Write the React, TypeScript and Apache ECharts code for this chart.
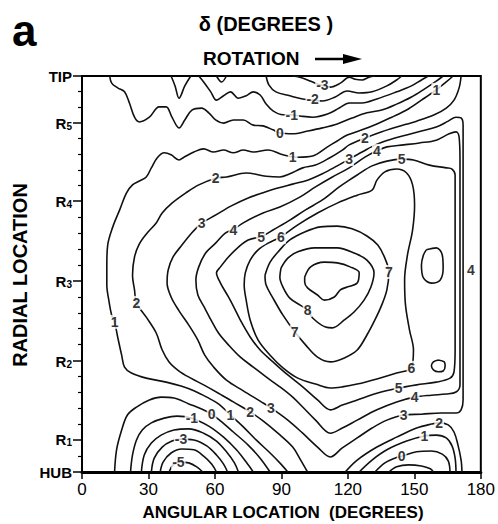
import React, { useEffect, useRef } from 'react';
import * as echarts from 'echarts';

const FONT = '"Liberation Sans", Arial, Helvetica, sans-serif';

// Axes
const xTicks = [0, 30, 60, 90, 120, 150, 180];
const radialNames = ['HUB', 'R1', 'R2', 'R3', 'R4', 'R5', 'TIP'];
const radialValues = [0, 8.1, 28.0, 48.2, 68.4, 88.1, 100];
const radialMinor = [4.0, 12.1, 16.1, 20.1, 24.1, 32.2, 36.2, 40.2, 44.2, 52.2, 56.2, 60.3, 64.3, 72.3, 76.3, 80.2, 84.2, 92.1, 96.1];

// Contours: [angular location (deg), radial location (% span hub->tip)]
const c9 = [[100.5,49.2],[103.2,51.8],[109.4,53.0],[115.2,52.8],[121.0,51.8],[125.1,50.3],[124.2,47.7],[119.7,46.7],[116.6,46.0],[113.9,44.2],[109.4,43.4],[106.3,44.7],[101.8,46.5],[100.5,48.0],[100.5,49.2]];
const c8 = [[89.8,51.5],[92.9,54.0],[97.4,55.6],[105.0,56.6],[115.2,56.6],[122.8,55.3],[128.6,53.5],[131.8,50.3],[130.4,46.7],[127.3,43.4],[122.8,40.4],[118.4,38.4],[113.0,36.4],[109.9,36.6],[104.1,38.9],[101.8,40.9],[98.3,42.2],[93.8,43.9],[90.7,46.7],[89.3,49.2],[89.8,51.5]];
const c7 = [[82.6,49.7],[84.9,53.0],[89.3,56.1],[93.8,58.6],[100.5,60.6],[107.6,61.9],[115.2,62.1],[121.9,61.4],[128.6,59.6],[133.5,57.3],[136.7,54.0],[138.5,50.5],[137.6,46.0],[135.3,42.2],[132.2,38.4],[128.6,34.6],[124.2,30.8],[118.4,28.8],[112.1,27.8],[106.3,29.0],[100.9,32.1],[96.0,35.4],[90.7,39.6],[86.2,43.9],[83.1,47.2],[82.6,49.7]];
const c6 = [[89.8,59.3],[97.4,62.4],[106.3,65.4],[115.2,67.9],[124.2,69.9],[130.9,71.2],[133.1,73.7],[136.7,75.8],[142.0,76.5],[146.5,75.5],[149.2,72.5],[150.1,67.4],[149.2,61.1],[146.9,54.8],[145.6,48.5],[146.0,42.2],[147.8,35.9],[149.6,30.8],[148.7,26.3],[142.0,25.0],[133.1,23.5],[124.2,22.2],[117.5,21.5],[112.1,21.2],[105.4,22.2],[97.4,23.7],[90.7,26.3],[84.9,29.5],[79.5,33.3],[75.9,38.4],[74.1,43.4],[73.2,47.2],[73.7,50.3],[75.9,53.5],[79.5,56.1],[84.0,57.8],[89.8,59.3]];
const c6Oval = [[155.4,56.1],[159.9,56.6],[162.6,54.8],[163.0,51.5],[161.7,48.5],[157.7,47.7],[154.1,49.0],[153.2,52.3],[154.1,54.8],[155.4,56.1]];
const c6Dot = [[160.8,28.3],[163.5,27.8],[163.9,26.8],[163.0,25.5],[160.8,25.3],[158.6,25.8],[157.7,26.8],[158.6,27.8],[160.8,28.3]];
const c5 = [[80.8,59.3],[86.2,61.1],[93.8,63.6],[100.9,66.2],[108.5,68.7],[116.1,72.0],[120.6,73.7],[124.2,75.0],[130.9,77.3],[137.6,78.5],[144.3,79.0],[149.6,78.8],[156.8,77.5],[164.4,76.8],[167.0,76.5],[168.4,75.0],[168.4,68.7],[168.4,56.1],[168.4,43.4],[168.4,30.8],[167.9,25.3],[166.1,23.7],[159.9,22.7],[151.0,22.0],[142.9,21.2],[133.1,19.9],[124.2,18.2],[117.5,16.9],[112.1,15.7],[106.3,18.2],[99.6,21.5],[92.9,24.5],[86.2,27.8],[80.4,30.8],[75.9,34.1],[71.9,37.9],[69.2,40.9],[66.1,44.2],[62.5,47.7],[60.7,50.3],[62.5,51.8],[66.1,54.3],[70.6,56.8],[75.0,58.6],[80.8,59.3]];
const c4 = [[68.3,61.1],[72.8,62.9],[81.7,65.4],[89.3,66.9],[98.3,69.4],[105.4,72.0],[113.0,74.5],[120.6,76.8],[127.7,79.5],[133.1,81.1],[137.6,82.1],[145.2,82.6],[152.3,83.1],[159.9,83.8],[165.7,85.4],[168.8,85.9],[170.2,84.6],[170.6,78.8],[170.6,68.7],[170.6,56.1],[170.6,43.4],[170.6,30.8],[170.6,22.0],[168.8,20.2],[164.4,19.7],[157.7,19.4],[150.1,18.9],[142.0,17.7],[133.1,15.7],[124.2,13.1],[117.5,11.1],[112.1,9.8],[105.4,13.1],[99.6,16.4],[95.1,18.9],[89.3,21.5],[83.1,24.0],[77.3,26.5],[71.5,29.0],[66.1,32.1],[61.6,35.1],[58.5,38.1],[55.4,41.4],[52.3,44.7],[51.4,48.5],[52.7,51.8],[55.8,55.3],[60.3,57.8],[64.8,60.4],[68.3,61.1]];
const c3 = [[54.0,62.9],[60.3,64.9],[67.4,67.2],[75.0,69.2],[81.7,70.5],[88.4,71.7],[95.1,72.7],[101.8,73.7],[108.5,75.3],[115.2,77.3],[120.6,79.0],[126.4,80.8],[133.1,82.8],[139.8,84.1],[146.5,85.1],[153.2,86.1],[159.9,87.1],[165.3,88.6],[168.8,89.6],[171.1,89.4],[172.0,87.6],[172.0,76.3],[172.0,56.1],[172.0,43.4],[172.0,30.8],[172.0,18.2],[171.1,15.7],[168.8,14.9],[162.1,14.9],[153.2,14.6],[145.2,14.4],[137.6,13.1],[130.9,11.1],[124.2,8.6],[117.5,6.1],[112.1,3.8],[106.3,6.3],[99.6,9.8],[92.9,13.1],[85.3,16.2],[80.4,17.9],[72.8,20.5],[65.2,23.2],[59.4,26.5],[55.4,29.5],[52.3,33.3],[48.2,37.1],[43.8,40.7],[40.2,44.2],[38.4,47.7],[38.9,51.0],[41.1,54.3],[45.1,57.3],[49.6,60.4],[54.0,62.9]];
const c2Main = [[171.1,100],[170.2,97.0],[167.9,93.9],[164.4,91.9],[159.0,90.2],[151.0,88.6],[142.0,87.1],[135.3,85.9],[127.7,84.3],[120.6,82.6],[117.5,81.3],[111.7,79.3],[105.4,77.5],[99.6,76.8],[93.8,75.3],[89.3,74.5],[83.1,74.7],[74.1,75.5],[65.2,74.5],[60.3,74.2],[52.7,72.5],[46.9,70.5],[40.6,67.9],[36.2,65.4],[33.5,62.9],[29.5,60.4],[25.9,57.6],[23.7,54.3],[22.8,49.7],[23.7,46.0],[24.6,42.7],[29.0,39.1],[33.5,35.1],[36.2,30.8],[39.3,27.8],[43.8,25.5],[49.1,23.7],[54.9,22.0],[61.6,19.9],[68.3,17.7],[75.9,15.2],[81.7,12.9],[88.4,9.8],[95.1,6.3],[98.7,3.0],[101.8,0]];
const c2Right = [[118.8,0],[124.2,3.0],[133.1,6.3],[142.0,8.8],[151.0,11.1],[157.7,12.1],[161.2,12.4],[165.3,11.9],[167.9,10.1],[169.7,6.8],[171.1,3.0],[171.5,0]];
const c1Main = [[167.5,100],[164.4,98.5],[159.9,96.5],[153.2,93.9],[146.5,91.4],[139.8,89.6],[133.1,87.9],[126.4,86.4],[119.7,85.1],[115.2,83.6],[110.8,82.1],[104.1,79.8],[97.4,79.5],[90.7,80.1],[84.0,81.3],[77.3,80.8],[72.8,81.3],[68.3,80.6],[63.9,81.3],[59.4,80.8],[54.9,81.6],[50.5,80.8],[46.0,79.5],[43.8,78.8],[40.2,80.1],[37.1,80.6],[33.9,79.3],[31.3,76.8],[29.0,74.5],[25.9,73.5],[22.8,72.5],[20.1,70.5],[17.0,66.2],[13.9,61.9],[11.6,57.3],[11.2,52.3],[11.2,47.2],[12.1,43.4],[13.4,39.6],[14.7,37.9],[16.1,34.1],[17.9,29.5],[19.2,26.5],[22.3,25.0],[29.0,23.7],[38.0,22.7],[44.7,21.7],[50.5,20.5],[56.3,18.9],[61.6,17.2],[67.0,14.4],[72.8,11.4],[78.6,8.1],[84.9,4.8],[89.8,2.0],[92.9,0]];
const c1Right = [[125.1,0],[130.9,3.0],[137.6,5.6],[146.5,7.8],[154.5,9.1],[159.9,9.3],[164.4,8.6],[167.0,6.6],[168.4,3.5],[168.8,0]];
const c0Top = [[12.5,100],[13.4,98.2],[16.1,97.0],[19.2,96.0],[21.4,93.2],[23.7,89.6],[25.9,88.4],[30.4,89.6],[34.8,92.2],[38.0,92.2],[40.6,89.6],[43.8,86.9],[46.4,88.9],[49.6,91.4],[54.0,91.9],[57.2,90.7],[60.3,88.9],[63.9,88.1],[68.3,88.9],[72.8,88.9],[77.3,87.6],[81.7,87.4],[86.2,86.4],[89.3,85.6],[95.1,85.4],[101.8,86.1],[108.5,86.9],[115.2,87.9],[121.9,89.4],[128.6,90.7],[135.3,91.4],[142.0,92.9],[148.7,94.7],[154.5,96.7],[159.9,98.7],[163.0,100]];
const c0Hub = [[14.7,0],[15.6,5.6],[17.9,10.6],[20.5,14.4],[24.6,16.4],[30.4,18.2],[35.7,18.9],[41.5,18.7],[48.2,17.2],[54.0,15.9],[58.5,14.6],[62.5,12.9],[68.3,10.1],[75.0,6.8],[80.4,3.5],[84.9,0]];
const c0Right = [[132.2,0],[136.7,2.3],[141.1,3.5],[144.3,4.0],[151.0,5.1],[157.7,5.3],[162.6,4.5],[165.3,2.8],[166.1,0]];
const cM1Top = [[52.7,100],[54.9,98.5],[58.1,96.0],[60.7,93.9],[63.9,95.0],[67.0,96.0],[70.6,94.4],[74.1,95.0],[77.3,96.0],[80.4,95.2],[83.1,92.9],[86.2,91.2],[90.7,90.2],[94.7,90.2],[98.3,89.9],[104.1,89.6],[110.8,90.4],[116.1,91.9],[120.6,93.2],[126.4,93.2],[133.1,94.2],[142.0,96.0],[148.7,97.5],[153.2,99.0],[156.3,100]];
const cM1Tongue = [[40.2,100],[42.0,97.5],[43.8,94.4],[46.4,97.5],[49.1,100]];
const cM1Hub = [[21.9,0],[22.8,4.3],[24.6,8.1],[27.2,10.6],[31.3,12.4],[37.1,13.6],[42.9,14.1],[49.6,13.6],[57.2,11.6],[63.9,8.8],[69.7,5.6],[74.1,2.5],[77.3,0]];
const cM1Right = [[138.5,0],[142.0,1.3],[147.4,1.8],[153.2,1.5],[157.2,0.8],[158.6,0]];
const cM2Top = [[83.1,100],[84.4,97.7],[87.5,96.0],[93.8,95.0],[99.6,94.2],[104.1,93.9],[108.5,93.7],[114.3,94.7],[119.7,96.2],[125.1,95.7],[130.9,96.0],[137.6,97.5],[142.0,99.0],[144.3,100]];
const cM2Tongue = [[60.7,100],[63.0,98.5],[65.2,100]];
const cM2Hub = [[26.8,0],[28.1,4.3],[31.3,7.3],[35.7,9.3],[41.5,10.6],[48.2,10.9],[54.9,9.8],[60.7,7.8],[65.2,5.1],[68.8,2.3],[70.6,0]];
const cM3Top = [[95.1,100],[98.3,99.7],[101.8,99.0],[106.3,98.0],[112.1,97.2],[116.6,98.2],[120.6,99.7],[123.3,99.2],[126.4,99.0],[129.5,99.7],[132.2,100]];
const cM3Hub = [[31.3,0],[32.6,3.5],[36.2,6.3],[40.6,7.8],[44.7,8.3],[50.5,8.1],[56.3,6.6],[60.7,4.3],[63.9,2.0],[65.7,0]];
const cM4Hub = [[35.3,0],[36.6,2.5],[40.2,4.8],[45.1,5.8],[50.5,5.6],[54.9,4.0],[58.5,2.0],[60.7,0]];
const cM5Hub = [[39.3,0],[41.1,1.8],[44.2,2.5],[48.2,2.3],[51.8,1.3],[54.5,0]];

// Contour labels: [deg, radial, text]
const contourLabels = [
  [108.5, 97.7, '-3'], [104.1, 94.2, '-2'], [94.7, 90.2, '-1'], [89.3, 85.6, '0'], [95.1, 79.5, '1'],
  [159.9, 96.5, '1'], [60.3, 74.2, '2'], [127.7, 84.3, '2'], [120.6, 79.0, '3'], [133.1, 81.1, '4'],
  [144.3, 79.0, '5'], [54.0, 62.9, '3'], [68.3, 61.1, '4'], [80.8, 59.3, '5'], [89.8, 59.3, '6'],
  [138.5, 50.5, '7'], [175.5, 51.0, '4'], [101.8, 40.9, '8'], [96.0, 35.4, '7'], [14.7, 37.9, '1'],
  [24.6, 42.7, '2'], [148.7, 26.3, '6'], [142.9, 21.2, '5'], [150.1, 18.9, '4'], [145.2, 14.4, '3'],
  [161.2, 12.4, '2'], [154.5, 9.1, '1'], [144.3, 4.0, '0'], [49.6, 13.6, '-1'], [58.5, 14.6, '0'],
  [67.0, 14.4, '1'], [75.9, 15.2, '2'], [85.3, 16.2, '3'], [44.7, 8.3, '-3'], [43.5, 2.6, '-5'],
];

const contours = [
  { level: 9, pts: c9 }, { level: 8, pts: c8 }, { level: 7, pts: c7 }, { level: 6, pts: c6 },
  { level: 6, pts: c6Oval }, { level: 6, pts: c6Dot }, { level: 5, pts: c5 }, { level: 4, pts: c4 },
  { level: 3, pts: c3 }, { level: 2, pts: c2Main }, { level: 2, pts: c2Right }, { level: 1, pts: c1Main },
  { level: 1, pts: c1Right }, { level: 0, pts: c0Top }, { level: 0, pts: c0Hub }, { level: 0, pts: c0Right },
  { level: -1, pts: cM1Top }, { level: -1, pts: cM1Tongue }, { level: -1, pts: cM1Hub }, { level: -1, pts: cM1Right },
  { level: -2, pts: cM2Top }, { level: -2, pts: cM2Tongue }, { level: -2, pts: cM2Hub },
  { level: -3, pts: cM3Top }, { level: -3, pts: cM3Hub }, { level: -4, pts: cM4Hub }, { level: -5, pts: cM5Hub },
];

export default function App() {
  const ref = useRef<HTMLDivElement>(null);
  useEffect(() => {
    if (!ref.current) return;
    const chart = echarts.init(ref.current, null, { renderer: 'svg' });
    const lineSeries = contours.map((c, i) => ({
      type: 'line',
      name: 'delta ' + c.level + ' #' + i,
      data: c.pts,
      smooth: 0.35,
      symbol: 'none',
      showSymbol: false,
      silent: true,
      clip: true,
      z: 2,
      lineStyle: { color: '#111', width: 1.6 },
    }));
    const labelSeries = {
      type: 'scatter',
      name: 'labels',
      data: contourLabels,
      symbolSize: 1,
      silent: true,
      z: 5,
      itemStyle: { color: 'rgba(0,0,0,0)' },
      label: {
        show: true,
        position: 'inside',
        formatter: (p: any) => p.value[2],
        color: '#000',
        fontFamily: FONT,
        fontWeight: 'bold',
        fontSize: 14,
        backgroundColor: '#fff',
        padding: [0, 1],
      },
    };
    const yLabel = (v: number) => {
      const i = radialValues.findIndex((rv) => Math.abs(rv - v) < 0.05);
      const n = radialNames[i] || '';
      if (n.length === 2 && n[0] === 'R') return '{r|R}{s|' + n[1] + '}';
      return '{r|' + n + '}';
    };
    chart.setOption({
      animation: false,
      backgroundColor: '#fff',
      grid: { left: 82, right: 13, top: 76, bottom: 52, show: true, borderColor: '#000', borderWidth: 2 },
      xAxis: {
        type: 'value', min: 0, max: 180, interval: 30,
        axisLine: { lineStyle: { color: '#000', width: 3 } },
        axisTick: { show: true, length: 7, lineStyle: { color: '#000', width: 1.5 }, customValues: xTicks },
        axisLabel: { customValues: xTicks, color: '#000', fontFamily: FONT, fontSize: 17, margin: 9 },
        splitLine: { show: false },
      },
      yAxis: [
        {
          type: 'value', min: 0, max: 100,
          axisLine: { lineStyle: { color: '#000', width: 2 } },
          axisTick: { show: true, length: 9, customValues: radialValues, lineStyle: { color: '#000', width: 1.5 } },
          axisLabel: {
            customValues: radialValues, formatter: yLabel, margin: 10, color: '#000',
            rich: {
              r: { fontFamily: FONT, fontSize: 15, fontWeight: 'bold', color: '#000' },
              s: { fontFamily: FONT, fontSize: 10, fontWeight: 'bold', color: '#000', verticalAlign: 'bottom', padding: [6, 0, 0, 0] },
            },
          },
          splitLine: { show: false },
        },
        {
          type: 'value', min: 0, max: 100, position: 'left',
          axisLine: { show: false },
          axisTick: { show: true, length: 4, customValues: radialMinor, lineStyle: { color: '#000', width: 1.2 } },
          axisLabel: { show: false },
          splitLine: { show: false },
        },
      ],
      graphic: [
        { type: 'text', x: 12, y: 30, style: { text: 'a', font: 'bold 44px ' + FONT, fill: '#000', align: 'left', verticalAlign: 'middle', textAlign: 'left', textVerticalAlign: 'middle' } },
        { type: 'text', x: 266, y: 24, style: { text: 'δ (DEGREES )', font: 'bold 20px ' + FONT, fill: '#000', align: 'center', verticalAlign: 'middle', textAlign: 'center', textVerticalAlign: 'middle' } },
        { type: 'text', x: 203, y: 58, style: { text: 'ROTATION', font: 'bold 19px ' + FONT, fill: '#000', align: 'left', verticalAlign: 'middle', textAlign: 'left', textVerticalAlign: 'middle' } },
        { type: 'line', shape: { x1: 315, y1: 59, x2: 348, y2: 59 }, style: { stroke: '#000', lineWidth: 2.5 } },
        { type: 'polygon', shape: { points: [[343, 54], [362, 59], [343, 64]] }, style: { fill: '#000' } },
        { type: 'text', x: 20, y: 275, rotation: Math.PI / 2, style: { text: 'RADIAL LOCATION', font: 'bold 20px ' + FONT, fill: '#000', align: 'center', verticalAlign: 'middle', textAlign: 'center', textVerticalAlign: 'middle' } },
        { type: 'text', x: 283, y: 512, style: { text: 'ANGULAR LOCATION  (DEGREES)', font: 'bold 17px ' + FONT, fill: '#000', align: 'center', verticalAlign: 'middle', textAlign: 'center', textVerticalAlign: 'middle' } },
      ],
      series: [...lineSeries, labelSeries],
    });
    return () => chart.dispose();
  }, []);
  return <div ref={ref} style={{ position: 'fixed', left: 0, top: 0, width: 498, height: 524, background: '#fff' }} />;
}
